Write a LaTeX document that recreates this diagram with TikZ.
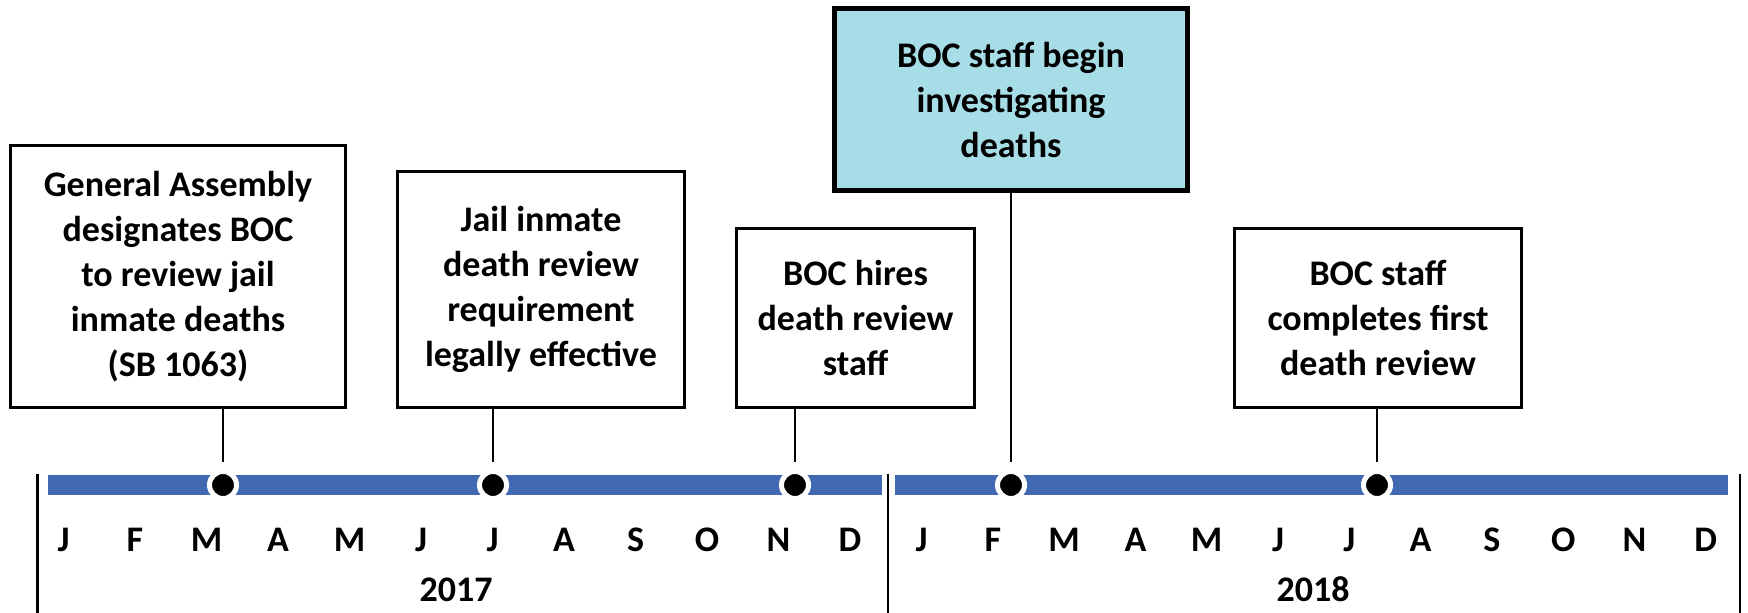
\documentclass[tikz,border=0pt]{standalone}
\usepackage{fontspec}
\setmainfont{Carlito}
\definecolor{barblue}{HTML}{4169B2}
\definecolor{keycyan}{HTML}{A6DDE6}

\begin{document}
\begin{tikzpicture}[x=0.5pt, y=-0.5pt]
  \tikzset{
    event_box/.style={rectangle, draw, line width=1.5pt, align=center, inner sep=0pt, font=\bfseries\fontsize{18}{22.5}\selectfont},
    key_box/.style={event_box, fill=keycyan, line width=2.5pt},
    event_dot/.style={circle, fill=black, draw=white, line width=2.5pt, minimum size=13.5pt, inner sep=0pt},
    stem/.style={line width=1.4pt, shorten >=3.5pt},
    time_bar/.style={barblue, line width=10pt},
    year_sep/.style={line width=1.3pt},
    month_label/.style={anchor=base, inner sep=0pt, font=\bfseries\fontsize{18}{22.5}\selectfont}
  }

  \useasboundingbox (0,0) rectangle (1748,613);

  % Barras de los dos años
  \coordinate (bar17_start) at (48,485);
  \coordinate (bar17_end) at (882,485);
  \coordinate (bar18_start) at (895,485);
  \coordinate (bar18_end) at (1728,485);
  \draw[time_bar] (bar17_start) -- (bar17_end);
  \draw[time_bar] (bar18_start) -- (bar18_end);

  % Separadores de año
  \coordinate (sep_a) at (37.5,474);
  \coordinate (sep_b) at (888,474);
  \coordinate (sep_c) at (1740,474);
  \draw[year_sep] (sep_a) -- (sep_a |- 0,613);
  \draw[year_sep] (sep_b) -- (sep_b |- 0,613);
  \draw[year_sep] (sep_c) -- (sep_c |- 0,613);

  % Cuadros de eventos
  \node[event_box, minimum width=167.5pt, minimum height=131pt] (assembly) at (178,276.5)
    {General Assembly\\designates BOC\\to review jail\\inmate deaths\\(SB 1063)};
  \node[event_box, minimum width=143.5pt, minimum height=118pt] (effective) at (541,289.5)
    {Jail inmate\\death review\\requirement\\legally effective};
  \node[event_box, minimum width=119pt, minimum height=89.5pt] (hires) at (855.5,318)
    {BOC hires\\death review\\staff};
  \node[key_box, minimum width=176.5pt, minimum height=91pt] (investigate) at (1011,99.5)
    {BOC staff begin\\investigating\\deaths};
  \node[event_box, minimum width=143.5pt, minimum height=89.5pt] (first_review) at (1378,318)
    {BOC staff\\completes first\\death review};

  % Puntos sobre la barra
  \node[event_dot] (assembly_dot) at (223,485) {};
  \node[event_dot] (effective_dot) at (493,485) {};
  \node[event_dot] (hires_dot) at (795,485) {};
  \node[event_dot] (investigate_dot) at (1011,485) {};
  \node[event_dot] (first_review_dot) at (1377,485) {};

  % Conexiones cuadro - punto
  \draw[stem] (assembly.south -| assembly_dot) -- (assembly_dot.north);
  \draw[stem] (effective.south -| effective_dot) -- (effective_dot.north);
  \draw[stem] (hires.south -| hires_dot) -- (hires_dot.north);
  \draw[stem] (investigate.south -| investigate_dot) -- (investigate_dot.north);
  \draw[stem] (first_review.south -| first_review_dot) -- (first_review_dot.north);

  % Meses
  \foreach \m [count=\i from 0] in {J,F,M,A,M,J,J,A,S,O,N,D} {
    \node[month_label] (m17_\i) at (63.5+71.5*\i,552) {\m};
    \node[month_label] (m18_\i) at (921.5+71.3*\i,552) {\m};
  }

  % Años
  \node[month_label] (y2017) at (456,601) {2017};
  \node[month_label] (y2018) at (1313,601) {2018};
\end{tikzpicture}
\end{document}
